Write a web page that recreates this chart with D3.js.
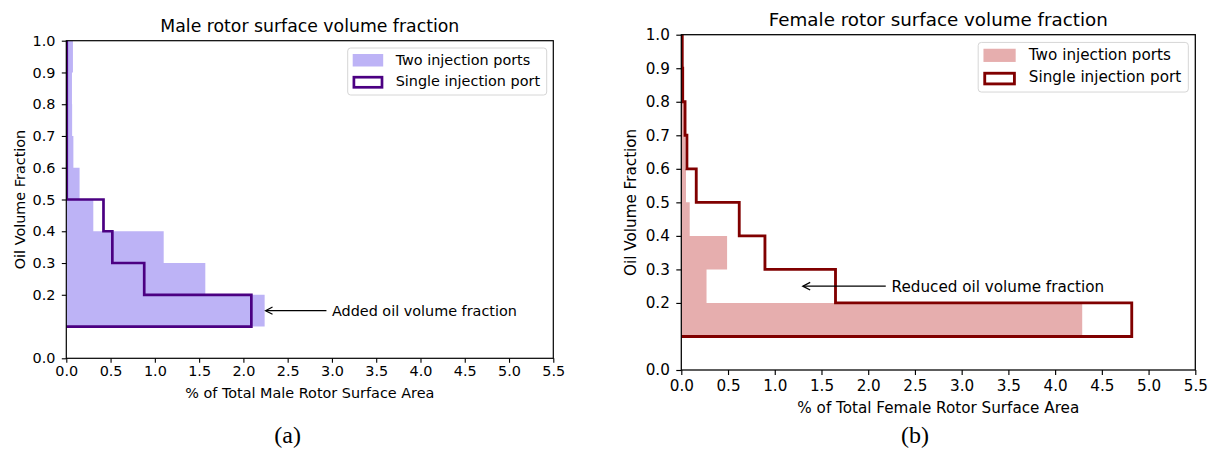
<!DOCTYPE html>
<html>
<head>
<meta charset="utf-8">
<script src="https://cdn.jsdelivr.net/npm/d3@7"></script>
<style>
  body { margin: 0; background: #fff; }
  text { font-family: "DejaVu Sans", sans-serif; fill: #000; }
</style>
</head>
<body>
<svg id="fig" width="1209" height="450"></svg>
<script>
// Oil volume fraction bins (lower edge of first bin to upper edge of last)
const binEdges = [0.1, 0.2, 0.3, 0.4, 0.5, 0.6, 0.7, 0.8, 0.9, 1.0];

// % of total rotor surface area falling in each bin
const maleTwoPorts     = [2.24, 1.57, 1.10, 0.305, 0.15, 0.08, 0.066, 0.064, 0.075];
const maleSinglePort   = [2.09, 0.88, 0.52, 0.42, 0.005, 0.005, 0.005, 0.005, 0.005];
const femaleTwoPorts   = [4.29, 0.27, 0.49, 0.09, 0.05, 0.04, 0.03, 0.02, 0.02];
const femaleSinglePort = [4.82, 1.65, 0.895, 0.62, 0.16, 0.06, 0.04, 0.015, 0.01];

const xTicks = [0, 0.5, 1.0, 1.5, 2.0, 2.5, 3.0, 3.5, 4.0, 4.5, 5.0, 5.5];
const yTicks = [0.0, 0.2, 0.3, 0.4, 0.5, 0.6, 0.7, 0.8, 0.9, 1.0];

const seriesNames = ["Two injection ports", "Single injection port"];

const svg = d3.select("#fig");

function drawPanel(p) {
  const k = p.k;
  const x = d3.scaleLinear().domain([0, 5.5]).range([p.left, p.right]);
  const y = d3.scaleLinear().domain([0, 1.0]).range([p.bottom, p.top]);
  const g = svg.append("g");

  const clipId = "clip-" + p.id;
  g.append("clipPath").attr("id", clipId)
    .append("rect")
    .attr("x", p.left).attr("y", p.top)
    .attr("width", p.right - p.left).attr("height", p.bottom - p.top);

  // horizontal histogram outline vertices: (value, edge) pairs
  function stepPoints(vals) {
    const pts = [[0, binEdges[0]]];
    vals.forEach((v, i) => {
      pts.push([v, binEdges[i]]);
      pts.push([v, binEdges[i + 1]]);
    });
    pts.push([0, binEdges[binEdges.length - 1]]);
    return pts;
  }
  const line = d3.line().x(d => x(d[0])).y(d => y(d[1]));

  const plot = g.append("g").attr("clip-path", `url(#${clipId})`);
  plot.append("path")
    .attr("d", line(stepPoints(p.twoPorts)) + "Z")
    .attr("fill", p.fill).attr("stroke", "none");
  plot.append("path")
    .attr("d", line(stepPoints(p.singlePort)))
    .attr("fill", "none").attr("stroke", p.stroke)
    .attr("stroke-width", 2.7 * k).attr("stroke-linejoin", "miter");

  // frame
  g.append("rect")
    .attr("x", p.left).attr("y", p.top)
    .attr("width", p.right - p.left).attr("height", p.bottom - p.top)
    .attr("fill", "none").attr("stroke", "#000").attr("stroke-width", 1.2 * k);

  // x axis
  const xAxis = d3.axisBottom(x).tickValues(xTicks)
    .tickFormat(d3.format(".1f")).tickSize(p.tickLen).tickPadding(p.xPad);
  const xa = g.append("g").attr("transform", `translate(0,${p.bottom})`).call(xAxis);
  xa.select(".domain").remove();
  xa.selectAll(".tick line").attr("stroke", "#000").attr("stroke-width", 1.1 * k);
  xa.selectAll(".tick text").attr("font-size", p.fs + "px")
    .attr("font-family", "DejaVu Sans").attr("fill", "#000");

  // y axis
  const yAxis = d3.axisLeft(y).tickValues(yTicks)
    .tickFormat(d3.format(".1f")).tickSize(p.tickLen).tickPadding(p.yPad);
  const ya = g.append("g").attr("transform", `translate(${p.left},0)`).call(yAxis);
  ya.select(".domain").remove();
  ya.selectAll(".tick line").attr("stroke", "#000").attr("stroke-width", 1.1 * k);
  ya.selectAll(".tick text").attr("font-size", p.fs + "px")
    .attr("font-family", "DejaVu Sans").attr("fill", "#000");

  // titles and axis labels
  const cx = (p.left + p.right) / 2;
  g.append("text").attr("x", cx).attr("y", p.top - 8.5 * k)
    .attr("text-anchor", "middle").attr("font-size", p.titleFs + "px").text(p.title);
  g.append("text").attr("x", cx).attr("y", p.bottom + p.xLabelOff)
    .attr("text-anchor", "middle").attr("font-size", p.fs + "px").text(p.xLabel);
  g.append("text")
    .attr("transform", `translate(${p.left - p.yLabelOff},${(p.top + p.bottom) / 2}) rotate(-90)`)
    .attr("text-anchor", "middle").attr("font-size", p.fs + "px").text("Oil Volume Fraction");

  // legend
  const lw = 199 * k, lh = 47 * k;
  const lx = p.right - 6.6 * k - lw, ly = p.top + 7.3 * k;
  const lg = g.append("g");
  lg.append("rect").attr("x", lx).attr("y", ly).attr("width", lw).attr("height", lh)
    .attr("rx", 3 * k).attr("fill", "#fff").attr("fill-opacity", 0.8)
    .attr("stroke", "#d6d6d6").attr("stroke-width", 1);
  const px = lx + 5 * k, pw = 30.5 * k, ph = 12.5 * k;
  lg.append("rect").attr("x", px).attr("y", ly + 6 * k).attr("width", pw).attr("height", ph)
    .attr("fill", p.fill);
  lg.append("rect").attr("x", px + 1.2 * k).attr("y", ly + 28 * k + 1.2 * k)
    .attr("width", pw - 2.4 * k).attr("height", ph - 2.4 * k)
    .attr("fill", "none").attr("stroke", p.stroke).attr("stroke-width", 2.7 * k);
  lg.append("text").attr("x", lx + 48 * k).attr("y", ly + 16.5 * k)
    .attr("font-size", p.fs + "px").text(seriesNames[0]);
  lg.append("text").attr("x", lx + 48 * k).attr("y", ly + 37.5 * k)
    .attr("font-size", p.fs + "px").text(seriesNames[1]);

  // annotation with open arrowhead
  const tx = x(p.noteAt[0]), ty = y(p.noteAt[1]);
  const ax = x(p.arrowTip[0]), ay = y(p.arrowTip[1]);
  g.append("text").attr("x", tx).attr("y", ty).attr("dy", "0.36em")
    .attr("font-size", p.fs + "px").text(p.note);
  const tail = tx - 5.5 * k;
  g.append("line").attr("x1", tail).attr("y1", ay).attr("x2", ax + 0.5).attr("y2", ay)
    .attr("stroke", "#000").attr("stroke-width", 1.2 * k);
  g.append("path")
    .attr("d", `M${ax + 7 * k},${ay - 3.6 * k}L${ax},${ay}L${ax + 7 * k},${ay + 3.6 * k}`)
    .attr("fill", "none").attr("stroke", "#000").attr("stroke-width", 1.2 * k);

  // panel caption, centred under the 2.5 tick
  svg.append("text").attr("x", x(p.captionAt)).attr("y", 443)
    .attr("text-anchor", "middle")
    .style("font-family", "'Liberation Serif', serif").attr("font-size", "24px")
    .text(p.caption);
}

drawPanel({
  id: "male", k: 1,
  left: 66.3, right: 553.3, top: 40.7, bottom: 358.3,
  fs: 14.4, titleFs: 17.3,
  tickLen: 4.5, xPad: 2.5, yPad: 6.3, xLabelOff: 39.5, yLabelOff: 41.5,
  title: "Male rotor surface volume fraction",
  xLabel: "% of Total Male Rotor Surface Area",
  twoPorts: maleTwoPorts, singlePort: maleSinglePort,
  fill: "#bdb3f6", stroke: "#4b0082",
  note: "Added oil volume fraction", noteAt: [3.0, 0.15], arrowTip: [2.25, 0.15],
  caption: "(a)", captionAt: 2.5
});

drawPanel({
  id: "female", k: 1.056,
  left: 681.3, right: 1195.3, top: 34.7, bottom: 370,
  fs: 15.2, titleFs: 18.3,
  tickLen: 5, xPad: 5.5, yPad: 6.5, xLabelOff: 43, yLabelOff: 45.3,
  title: "Female rotor surface volume fraction",
  xLabel: "% of Total Female Rotor Surface Area",
  twoPorts: femaleTwoPorts, singlePort: femaleSinglePort,
  fill: "#e6aeae", stroke: "#800000",
  note: "Reduced oil volume fraction", noteAt: [2.25, 0.25], arrowTip: [1.3, 0.25],
  caption: "(b)", captionAt: 2.5
});
</script>
</body>
</html>
